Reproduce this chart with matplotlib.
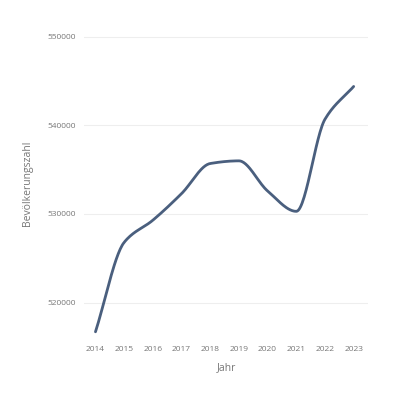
import numpy as np
import matplotlib.pyplot as plt

plt.rcParams['font.family'] = ['Open Sans', 'DejaVu Sans']

years = [2014, 2015, 2016, 2017, 2018, 2019, 2020, 2021, 2022, 2023]
population = [516700, 526800, 529300, 532300, 535700, 536000, 532600, 530300, 540700, 544400]


def monotone_curve(x, y, n=30):
    # monotone cubic (Fritsch-Carlson), like d3 curveMonotoneX
    x = np.asarray(x, float)
    y = np.asarray(y, float)
    h = np.diff(x)
    d = np.diff(y) / h
    m = np.zeros_like(y)
    m[0], m[-1] = d[0], d[-1]
    for i in range(1, len(y) - 1):
        if d[i - 1] * d[i] <= 0:
            m[i] = 0
        else:
            m[i] = 2 / (1 / d[i - 1] + 1 / d[i])
    xs, ys = [], []
    for i in range(len(h)):
        t = np.linspace(0, 1, n)
        h00 = 2 * t**3 - 3 * t**2 + 1
        h10 = t**3 - 2 * t**2 + t
        h01 = -2 * t**3 + 3 * t**2
        h11 = t**3 - t**2
        xs.extend(x[i] + t * h[i])
        ys.extend(h00 * y[i] + h10 * h[i] * m[i] + h01 * y[i + 1] + h11 * h[i] * m[i + 1])
    return xs, ys


fig, ax = plt.subplots(figsize=(4, 4), dpi=100)
fig.subplots_adjust(left=0.21, right=0.92, top=0.93, bottom=0.155)

cx, cy = monotone_curve(years, population)
ax.plot(cx, cy, color='#4a5f7e', linewidth=2.0, solid_capstyle='round')

ax.set_xlim(2013.6, 2023.5)
ax.set_ylim(516000, 551000)
ax.set_yticks([520000, 530000, 540000, 550000])
ax.set_xticks(years)
ax.grid(axis='y', color='#eeeeee', linewidth=0.8)
ax.set_axisbelow(True)
for s in ax.spines.values():
    s.set_visible(False)
ax.tick_params(length=0, labelsize=6, colors='#777777', pad=6)
ax.set_xlabel('Jahr', fontsize=7.5, color='#777777', labelpad=6)
ax.set_ylabel('Bevölkerungszahl', fontsize=7.5, color='#777777', labelpad=10)

plt.savefig('out.png', dpi=100)
